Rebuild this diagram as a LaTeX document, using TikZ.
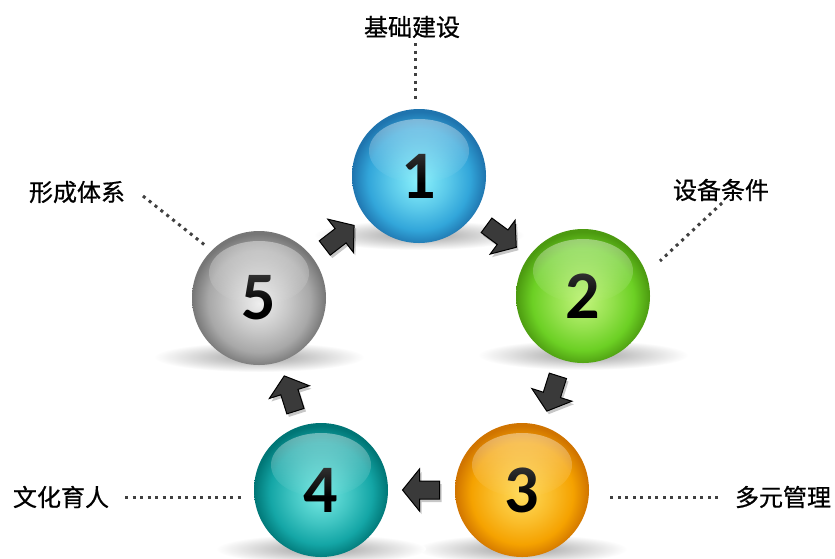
\documentclass[tikz,border=0pt]{standalone}
\usepackage{fontspec}
\newfontfamily\cjk[FakeBold=0.7]{Noto Sans CJK SC}
\newfontfamily\numfont{Carlito}
\usetikzlibrary{calc,fadings}

% sphere colours: rim, main, centre
\definecolor{aR}{HTML}{1F74AE}\definecolor{aM}{HTML}{32A6DA}\definecolor{aC}{HTML}{8AF2FC}
\definecolor{bR}{HTML}{4C9A10}\definecolor{bM}{HTML}{6CD024}\definecolor{bC}{HTML}{C2F47C}
\definecolor{cR}{HTML}{D07400}\definecolor{cM}{HTML}{F5A200}\definecolor{cC}{HTML}{FFDC5C}
\definecolor{dR}{HTML}{007676}\definecolor{dM}{HTML}{14A6A6}\definecolor{dC}{HTML}{76EAE4}
\definecolor{eR}{HTML}{767676}\definecolor{eM}{HTML}{A8A8A8}\definecolor{eC}{HTML}{EEEEEE}
\definecolor{dotc}{HTML}{404040}
\definecolor{arrc}{HTML}{3A3A3A}

\pgfdeclareradialshading{sphA}{\pgfpoint{0bp}{-2bp}}{color(0bp)=(aC); color(11bp)=(aC!45!aM); color(19bp)=(aM); color(25bp)=(aR); color(50bp)=(aR)}
\pgfdeclareradialshading{sphB}{\pgfpoint{0bp}{-2bp}}{color(0bp)=(bC); color(11bp)=(bC!45!bM); color(19bp)=(bM); color(25bp)=(bR); color(50bp)=(bR)}
\pgfdeclareradialshading{sphC}{\pgfpoint{0bp}{-2bp}}{color(0bp)=(cC); color(11bp)=(cC!45!cM); color(19bp)=(cM); color(25bp)=(cR); color(50bp)=(cR)}
\pgfdeclareradialshading{sphD}{\pgfpoint{0bp}{-2bp}}{color(0bp)=(dC); color(11bp)=(dC!45!dM); color(19bp)=(dM); color(25bp)=(dR); color(50bp)=(dR)}
\pgfdeclareradialshading{sphE}{\pgfpoint{0bp}{-2bp}}{color(0bp)=(eC); color(11bp)=(eC!45!eM); color(19bp)=(eM); color(25bp)=(eR); color(50bp)=(eR)}

\tikzfading[name=hlfade, top color=transparent!20, bottom color=transparent!100]

\tikzset{
  sphere/.style={circle, minimum size=134pt, inner sep=0pt, shade,
    font=\numfont\bfseries\fontsize{68}{68}\selectfont, text=black},
  gloss/.style={white, opacity=0.5, path fading=hlfade},
  floorshadow/.style={inner color=black!38, outer color=white},
  lbl/.style={font=\cjk\fontsize{24}{28}\selectfont, text=black, inner sep=0pt},
  dotline/.style={draw=dotc, line width=3pt, dash pattern=on 3pt off 4.5pt},
  barrow/.pic={
    \filldraw[fill=arrc, draw=black, line width=1pt, line join=miter]
      (19,0) -- (2,21) -- (2,9) -- (-18,9) -- (-18,-9) -- (2,-9) -- (2,-21) -- cycle;
  },
  barrowshadow/.pic={
    \fill[black, opacity=0.22]
      (19,0) -- (2,21) -- (2,9) -- (-18,9) -- (-18,-9) -- (2,-9) -- (2,-21) -- cycle;
  }
}

\begin{document}
\begin{tikzpicture}[x=1pt, y=-1pt]
\useasboundingbox (0,0) rectangle (835,558);
\fill[white] (0,0) rectangle (835,558);

% sphere centres
\coordinate (c1) at (419,176);
\coordinate (c2) at (583,296);
\coordinate (c3) at (522,490);
\coordinate (c4) at (321,490);
\coordinate (c5) at (259,298);

% floor shadows
\foreach \c in {c1,c2,c3,c4,c5}
  \shade[floorshadow] ($(\c)+(0,59)$) ellipse [x radius=105pt, y radius=15pt];

% spheres
\node[sphere, shading=sphA] (s1) at (c1) {1};
\node[sphere, shading=sphB] (s2) at (c2) {2};
\node[sphere, shading=sphC] (s3) at (c3) {3};
\node[sphere, shading=sphD] (s4) at (c4) {4};
\node[sphere, shading=sphE] (s5) at (c5) {5};

% glossy highlights
\foreach \s in {s1,s2,s3,s4,s5}
  \fill[gloss] ($(\s.center)+(0,-25)$) ellipse [x radius=50pt, y radius=32pt];

% block arrows between spheres
\path ($(s1)!0.5!(s2)+(2,3)$) pic[rotate=-36.4] {barrowshadow};
\path ($(s2)!0.5!(s3)+(2,3)$) pic[rotate=-107.5] {barrowshadow};
\path ($(s3)!0.5!(s4)+(2,3)$) pic[rotate=180] {barrowshadow};
\path ($(s4)!0.5!(s5)+(2,3)$) pic[rotate=107.6] {barrowshadow};
\path ($(s5)!0.5!(s1)+(2,3)$) pic[rotate=37.6] {barrowshadow};

\path ($(s1)!0.5!(s2)$) pic[rotate=-36.4] {barrow};
\path ($(s2)!0.5!(s3)$) pic[rotate=-107.5] {barrow};
\path ($(s3)!0.5!(s4)$) pic[rotate=180] {barrow};
\path ($(s4)!0.5!(s5)$) pic[rotate=107.6] {barrow};
\path ($(s5)!0.5!(s1)$) pic[rotate=37.6] {barrow};

% labels
\node[lbl] (t1) at (412,27) {基础建设};
\node[lbl] (t2) at (721,190) {设备条件};
\node[lbl] (t3) at (783,497) {多元管理};
\node[lbl] (t4) at (61,497) {文化育人};
\node[lbl] (t5) at (77,192) {形成体系};

% dotted leaders
\coordinate (a1) at (415,43);  \coordinate (b1) at (415,101);
\coordinate (a2) at (722,203); \coordinate (b2) at (660,261);
\coordinate (a3) at (718,497); \coordinate (b3) at (607,497);
\coordinate (a4) at (125,497); \coordinate (b4) at (242,497);
\coordinate (a5) at (143,196); \coordinate (b5) at (206,246);
\foreach \i in {1,...,5}
  \draw[dotline] (a\i) -- (b\i);
\end{tikzpicture}
\end{document}
